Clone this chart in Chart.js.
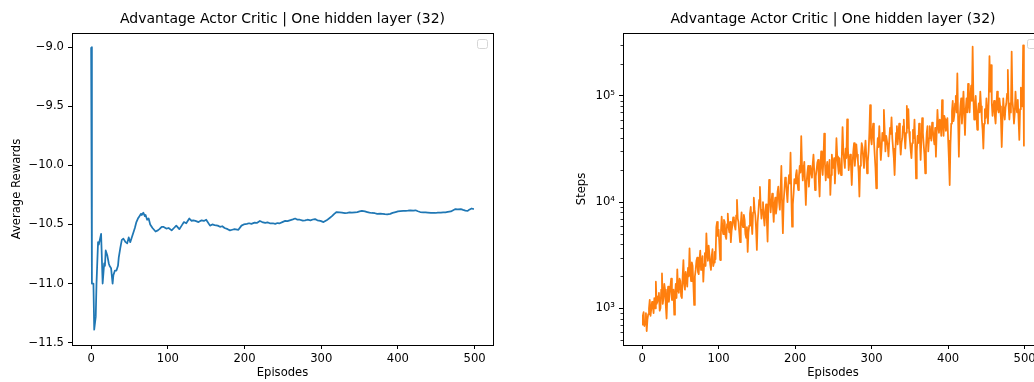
<!DOCTYPE html>
<html>
<head>
<meta charset="utf-8">
<script src="https://cdn.jsdelivr.net/npm/chart.js@4.4.1/dist/chart.umd.min.js"></script>
<style>
  html, body { margin: 0; padding: 0; background: #fff; overflow: hidden; }
  body { width: 1034px; height: 382px; position: relative; }
  .panel { position: absolute; top: 0; width: 520px; height: 382px; }
  #left { left: 0; }
  #right { left: 540px; }
</style>
</head>
<body>
<div class="panel" id="left"><canvas id="rewardsChart"></canvas></div>
<div class="panel" id="right"><canvas id="stepsChart"></canvas></div>
<script>
const TITLE = 'Advantage Actor Critic | One hidden layer (32)';

// left panel: running average reward
const rewardEpisodes = [0, 1, 3, 4, 6, 7, 9, 10, 13, 15, 17, 18, 19, 21, 23, 24, 26, 28, 29, 31, 33, 35, 36, 38, 40,
  42, 45, 47, 49, 51, 53, 55, 57, 59, 61, 63, 65, 66, 68, 70, 71, 73, 75, 77, 80, 84, 87, 89, 92, 94, 98,
  101, 105, 108, 111, 115, 118, 121, 124, 128, 131, 133, 136, 140, 144, 147, 150, 155, 158, 161, 165, 168,
  171, 174, 178, 181, 184, 187, 192, 196, 199, 203, 206, 209, 213, 216, 220, 223, 227, 230, 233, 237, 240,
  243, 246, 250, 253, 256, 259, 263, 266, 269, 272, 276, 279, 282, 286, 289, 292, 295, 299, 303, 307, 311,
  314, 317, 320, 324, 327, 331, 334, 337, 340, 344, 347, 350, 353, 357, 360, 363, 366, 370, 373, 377, 380,
  383, 386, 390, 393, 397, 400, 403, 407, 410, 413, 416, 420, 423, 426, 429, 433, 436, 439, 443, 446, 449,
  452, 456, 459, 462, 465, 469, 472, 475, 478, 482, 485, 488, 491, 493, 496, 499];
const avgRewards = [-9.00, -11.00, -11.00, -11.39, -11.28, -11.00, -10.65, -10.67, -10.58, -11.00, -10.83, -10.85,
  -10.72, -10.76, -10.83, -10.85, -10.87, -11.00, -10.93, -10.89, -10.89, -10.85, -10.78, -10.70, -10.63,
  -10.62, -10.65, -10.66, -10.61, -10.65, -10.61, -10.57, -10.53, -10.48, -10.45, -10.43, -10.41, -10.42,
  -10.40, -10.43, -10.42, -10.46, -10.45, -10.50, -10.53, -10.56, -10.55, -10.54, -10.52, -10.52, -10.535,
  -10.53, -10.55, -10.53, -10.51, -10.54, -10.51, -10.48, -10.49, -10.45, -10.47, -10.465, -10.47, -10.48,
  -10.465, -10.47, -10.46, -10.51, -10.50, -10.505, -10.51, -10.52, -10.515, -10.53, -10.54, -10.55, -10.545,
  -10.54, -10.545, -10.51, -10.50, -10.495, -10.49, -10.495, -10.485, -10.487, -10.47, -10.48, -10.487,
  -10.483, -10.49, -10.49, -10.495, -10.488, -10.49, -10.478, -10.47, -10.472, -10.465, -10.457, -10.45,
  -10.46, -10.46, -10.468, -10.465, -10.46, -10.465, -10.458, -10.455, -10.465, -10.47, -10.48, -10.465,
  -10.445, -10.43, -10.41, -10.395, -10.398, -10.40, -10.405, -10.402, -10.398, -10.40, -10.397, -10.395,
  -10.39, -10.385, -10.39, -10.395, -10.40, -10.403, -10.405, -10.41, -10.408, -10.41, -10.413, -10.415,
  -10.41, -10.402, -10.395, -10.39, -10.387, -10.386, -10.385, -10.383, -10.38, -10.382, -10.38, -10.388,
  -10.395, -10.397, -10.398, -10.40, -10.403, -10.401, -10.403, -10.40, -10.40, -10.398, -10.398, -10.394,
  -10.39, -10.38, -10.37, -10.372, -10.37, -10.377, -10.383, -10.385, -10.375, -10.365, -10.37];

// right panel: steps per episode, episodes 0 .. 499 (20 per row)
const steps = [
  700, 850, 920, 680, 750, 900, 610, 780, 880, 1000, 1200, 850, 980, 1150, 1050, 900, 1250, 1000, 1780, 1100,
  1150, 1300, 1400, 950, 1000, 1500, 2130, 1100, 1250, 1700, 1500, 1050, 800, 1300, 1600, 1150, 1350, 1600, 1900, 1200,
  1200, 1500, 870, 1300, 1700, 1250, 2330, 1500, 1400, 1900, 1800, 1300, 1250, 2000, 2850, 1700, 1500, 2200, 1900, 1600,
  2400, 2000, 3670, 2200, 1800, 2700, 2500, 1700, 1075, 2000, 2300, 2800, 3000, 2200, 2100, 2900, 3500, 2300, 2600, 3100,
  1780, 2600, 3300, 2500, 5080, 3400, 2800, 3900, 3200, 2600, 2300, 3100, 3600, 2500, 2700, 3400, 2900, 5800, 6500, 4800,
  5500, 4000, 2850, 5200, 7300, 5600, 5000, 6800, 6500, 4800, 4500, 6200, 7800, 5800, 5200, 6500, 4200, 5400, 6000, 7200,
  7000, 6000, 5500, 7500, 10500, 7000, 6500, 5200, 4200, 6300, 8000, 6200, 5800, 7600, 6800, 5000, 4600, 5800, 3400, 5200,
  6000, 7800, 9000, 6500, 5000, 8000, 11000, 8500, 7500, 5500, 3550, 6500, 8000, 10500, 13900, 9000, 7000, 8500, 10000, 7200,
  6000, 8200, 9500, 6800, 4250, 9000, 16200, 10500, 8000, 10000, 12000, 8800, 6500, 9500, 11000, 7800, 9000, 12500, 14000, 10000,
  8500, 13000, 21900, 9000, 5100, 10000, 13000, 17000, 16000, 12500, 10000, 14500, 18000, 15000, 29200, 12000, 5870, 9500, 12000, 16500,
  15000, 18000, 20000, 15500, 13000, 17500, 22000, 19000, 41900, 22000, 16000, 20000, 24000, 15000, 9400, 15500, 19000, 22000, 14000, 18500,
  22000, 19000, 17000, 23000, 28000, 19500, 13000, 17500, 20000, 23500, 25000, 16000, 11300, 21000, 30000, 22000, 18000, 25000, 44300, 23000,
  16000, 21000, 24000, 17000, 19000, 25000, 11700, 18000, 28000, 22500, 21000, 26000, 15000, 23000, 40000, 27000, 22000, 18500, 26000, 21000,
  18000, 27000, 51000, 30000, 25000, 21000, 32000, 26000, 60300, 33000, 20000, 24500, 28000, 22000, 14500, 23000, 30000, 36000, 22000, 27000,
  35000, 28000, 25000, 19000, 11300, 22000, 27000, 36000, 33000, 26000, 21000, 30000, 38000, 27000, 18700, 24000, 30000, 45000, 82000, 40000,
  35000, 46000, 55000, 38000, 28000, 21000, 13500, 30000, 40000, 33000, 52000, 36000, 25000, 32000, 45000, 38000, 74000, 48000, 30000, 42000,
  42000, 34000, 27000, 38000, 50000, 44000, 63000, 40000, 32000, 26000, 18000, 30000, 45000, 52000, 35000, 44000, 55000, 38000, 28000, 36000,
  40000, 52000, 60000, 42000, 32000, 45000, 80500, 50000, 75000, 46000, 38000, 31000, 26000, 36000, 48000, 40000, 60000, 35000, 16700, 30000,
  42000, 36000, 55000, 40000, 25000, 38000, 62000, 45000, 35000, 28000, 18700, 32000, 45000, 52000, 30000, 40000, 52000, 44000, 38000, 56000,
  48000, 40000, 35000, 50000, 26800, 45000, 74000, 52000, 45000, 60000, 55000, 42000, 91500, 56000, 42000, 65000, 60000, 47000, 50000, 62000,
  38000, 25000, 14500, 35000, 55000, 72000, 90000, 58000, 65000, 85000, 100000, 70000, 163000, 60000, 26800, 60000, 80000, 95000, 55000, 75000,
  110000, 68000, 43000, 75000, 95000, 70000, 130000, 85000, 70000, 100000, 125000, 90000, 291000, 95000, 60000, 80000, 100000, 65000, 48000, 72000,
  85000, 70000, 110000, 80000, 60000, 48000, 32000, 55000, 75000, 62000, 95000, 70000, 55000, 90000, 238000, 110000, 195000, 85000, 65000, 80000,
  90000, 65000, 55000, 80000, 110000, 75000, 70000, 95000, 80000, 60000, 33000, 58000, 95000, 72000, 60000, 78000, 85000, 105000, 176000, 80000,
  60000, 85000, 70000, 262000, 90000, 75000, 55000, 68000, 110000, 80000, 70000, 92000, 60000, 38600, 75000, 120000, 90000, 80000, 300000, 34000
];

// ticks
const episodeTicks = [0, 100, 200, 300, 400, 500];
const rewardTicks = [-11.5, -11.0, -10.5, -10.0, -9.5, -9.0];
const stepTicks = [1000, 10000, 100000];

const X_MIN = -24.95, X_MAX = 523.95;
const SUP = { '0': '\u2070', '1': '\u00b9', '2': '\u00b2', '3': '\u00b3', '4': '\u2074', '5': '\u2075', '6': '\u2076' };
const FS = 11.6;

Chart.defaults.font.family = "'DejaVu Sans', sans-serif";
Chart.defaults.color = '#000';

// full box around the axes, like matplotlib spines
const framePlugin = {
  id: 'frame',
  afterDraw(chart) {
    const { ctx, chartArea: a } = chart;
    ctx.save();
    ctx.strokeStyle = '#000';
    ctx.lineWidth = 1;
    ctx.strokeRect(a.left + 0.5, a.top + 0.5, a.right - a.left, a.bottom - a.top);
    ctx.restore();
  }
};

// the empty legend box in the upper right corner
const emptyLegendPlugin = {
  id: 'emptyLegend',
  afterDraw(chart) {
    const { ctx, chartArea: a } = chart;
    ctx.save();
    ctx.fillStyle = 'rgba(255,255,255,0.8)';
    ctx.strokeStyle = '#d6d6d6';
    ctx.lineWidth = 1;
    ctx.beginPath();
    ctx.roundRect(a.right - 15.5, a.top + 6.5, 10, 9, 2);
    ctx.fill();
    ctx.stroke();
    ctx.restore();
  }
};

// short minor ticks for the log axis
const minorTickPlugin = {
  id: 'minorTicks',
  afterDraw(chart) {
    const scale = chart.scales.y;
    if (scale.type !== 'logarithmic') return;
    const { ctx } = chart;
    ctx.save();
    ctx.strokeStyle = '#000';
    ctx.lineWidth = 0.8;
    for (let d = 100; d <= 100000; d *= 10) {
      for (let k = 2; k <= 9; k++) {
        const v = k * d;
        if (v < scale.min || v > scale.max) continue;
        const y = Math.round(scale.getPixelForValue(v)) + 0.5;
        ctx.beginPath();
        ctx.moveTo(scale.right - 2.5, y);
        ctx.lineTo(scale.right, y);
        ctx.stroke();
      }
    }
    ctx.restore();
  }
};

function xScale() {
  return {
    type: 'linear',
    min: X_MIN,
    max: X_MAX,
    afterFit: s => { s.height = 37; },
    afterBuildTicks: s => { s.ticks = episodeTicks.map(v => ({ value: v })); },
    ticks: { autoSkip: false, maxRotation: 0, padding: 3, font: { size: FS }, callback: v => String(v) },
    grid: { display: true, drawOnChartArea: false, drawTicks: true, tickLength: 4, color: '#000' },
    border: { display: false },
    title: { display: true, text: 'Episodes', font: { size: FS }, padding: { top: 0, bottom: 2.04 } }
  };
}

function titleOpts() {
  return {
    display: true,
    text: TITLE,
    fullSize: false,
    color: '#000',
    font: { size: 14, weight: 'normal' },
    padding: { top: 10.6, bottom: 5.6 }
  };
}

new Chart(document.getElementById('rewardsChart'), {
  type: 'line',
  data: {
    datasets: [{
      data: rewardEpisodes.map((x, i) => ({ x, y: avgRewards[i] })),
      borderColor: '#1f77b4',
      borderWidth: 1.75,
      borderJoinStyle: 'round',
      pointRadius: 0,
      tension: 0,
      fill: false
    }]
  },
  options: {
    responsive: true,
    maintainAspectRatio: false,
    animation: false,
    devicePixelRatio: 1,
    layout: { padding: { left: 0, right: 27, top: 0, bottom: 0 } },
    plugins: { legend: { display: false }, tooltip: { enabled: false }, title: titleOpts() },
    scales: {
      x: xScale(),
      y: {
        type: 'linear',
        min: -11.52,
        max: -8.88,
        afterFit: s => { s.width = 72; },
        afterBuildTicks: s => { s.ticks = rewardTicks.map(v => ({ value: v })); },
        ticks: {
          padding: 4,
          font: { size: FS },
          callback: v => (v < 0 ? '\u2212' : '') + Math.abs(v).toFixed(1)
        },
        grid: { display: true, drawOnChartArea: false, drawTicks: true, tickLength: 4, color: '#000' },
        border: { display: false },
        title: { display: true, text: 'Average Rewards', font: { size: FS }, padding: { top: 10.04, bottom: 0 } }
      }
    }
  },
  plugins: [framePlugin, emptyLegendPlugin]
});

new Chart(document.getElementById('stepsChart'), {
  type: 'line',
  data: {
    datasets: [{
      data: steps.map((y, i) => ({ x: i, y })),
      borderColor: '#ff7f0e',
      borderWidth: 1.75,
      borderJoinStyle: 'round',
      pointRadius: 0,
      tension: 0,
      fill: false
    }]
  },
  options: {
    responsive: true,
    maintainAspectRatio: false,
    animation: false,
    devicePixelRatio: 1,
    layout: { padding: { left: 0, right: 17, top: 0, bottom: 0 } },
    plugins: { legend: { display: false }, tooltip: { enabled: false }, title: titleOpts() },
    scales: {
      x: xScale(),
      y: {
        type: 'logarithmic',
        min: 451,
        max: 392000,
        afterFit: s => { s.width = 83; },
        afterBuildTicks: s => { s.ticks = stepTicks.map(v => ({ value: v })); },
        ticks: {
          padding: 4,
          font: { size: FS },
          callback: v => '10' + String(Math.round(Math.log10(v))).split('').map(c => SUP[c]).join('')
        },
        grid: { display: true, drawOnChartArea: false, drawTicks: true, tickLength: 4, color: '#000' },
        border: { display: false },
        title: { display: true, text: 'Steps', font: { size: FS }, padding: { top: 35.04, bottom: 0 } }
      }
    }
  },
  plugins: [framePlugin, emptyLegendPlugin, minorTickPlugin]
});
</script>
</body>
</html>
